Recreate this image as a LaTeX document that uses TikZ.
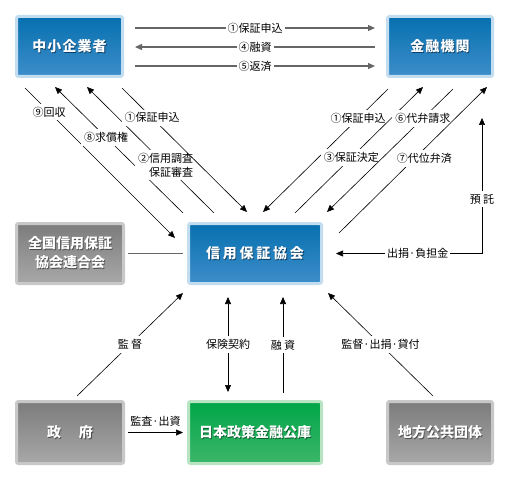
\documentclass[tikz,border=0pt]{standalone}
\usepackage{fontspec}
\usepackage{xcolor}
\usetikzlibrary{arrows.meta,positioning}
\newfontfamily\jp{Noto Sans CJK JP}
\definecolor{blueTop}{HTML}{0770B0}
\definecolor{blueBot}{HTML}{3D8EC9}
\definecolor{blueRim}{HTML}{C2DCF0}
\definecolor{blueShade}{HTML}{0B3F66}
\definecolor{grayTop}{HTML}{7C7C7C}
\definecolor{grayBot}{HTML}{A8A8A8}
\definecolor{grayRim}{HTML}{C8C8C8}
\definecolor{grayShade}{HTML}{4A4A4A}
\definecolor{greenTop}{HTML}{00A648}
\definecolor{greenBot}{HTML}{3CB66A}
\definecolor{greenRim}{HTML}{B8E4C4}
\definecolor{greenShade}{HTML}{0A5A2C}
\definecolor{lineGray}{HTML}{666666}
\newcommand{\shtext}[2]{\leavevmode\rlap{\kern0.8pt\raisebox{-0.9pt}{\textcolor{#1}{#2}}}#2}
\tikzset{>={Triangle[length=7pt,width=6pt]},
  box/.style={rectangle, rounded corners=2pt, line width=3pt, text=white, align=center,
    inner sep=0pt, font=\jp\fontsize{14}{19}\selectfont\bfseries},
  bluebox/.style={box, draw=blueRim, top color=blueTop, bottom color=blueBot},
  graybox/.style={box, draw=grayRim, top color=grayTop, bottom color=grayBot},
  greenbox/.style={box, draw=greenRim, top color=greenTop, bottom color=greenBot},
  lbl/.style={font=\jp\fontsize{11}{13.5}\selectfont, fill=white, inner sep=3pt, text=black},
  link/.style={draw=black, line width=0.6pt},
  flow/.style={draw=lineGray, line width=1.2pt}}

\begin{document}
\begin{tikzpicture}[x=1pt,y=-1pt]
\useasboundingbox (0,0) rectangle (511,481);

% Boxes
\node[bluebox, minimum width=106pt, minimum height=60pt] (sme) at (69.5,46.5)
  {\addfontfeature{LetterSpace=8}\shtext{blueShade}{中小企業者}};
\node[bluebox, minimum width=105pt, minimum height=60pt] (bank) at (440,46.5)
  {\addfontfeature{LetterSpace=8}\shtext{blueShade}{金融機関}};
\node[bluebox, minimum width=133pt, minimum height=60pt] (cgc) at (255,253.5)
  {\addfontfeature{LetterSpace=20}\shtext{blueShade}{信用保証協会}};
\node[graybox, minimum width=107pt, minimum height=60pt] (fed) at (70,253.5)
  {\shtext{grayShade}{全国信用保証}\\\shtext{grayShade}{協会連合会}};
\node[graybox, minimum width=107pt, minimum height=62pt] (gov) at (70,432.5)
  {\shtext{grayShade}{政\hspace{18pt}府}};
\node[greenbox, minimum width=133pt, minimum height=62pt] (jfc) at (255,432.5)
  {\shtext{greenShade}{日本政策金融公庫}};
\node[graybox, minimum width=105pt, minimum height=62pt] (local) at (440,432.5)
  {\shtext{grayShade}{地方公共団体}};

% SME <-> bank
\draw[flow,->] ([shift={(11,-18.5)}]sme.east) -- node[lbl,inner sep=2pt]{①保証申込} ([shift={(-11,-18.5)}]bank.west);
\draw[flow,<-] ([shift={(11,0.5)}]sme.east) -- node[lbl,inner sep=2pt]{④融資} ([shift={(-11,0.5)}]bank.west);
\draw[flow,->] ([shift={(11,19.5)}]sme.east) -- node[lbl,inner sep=2pt]{⑤返済} ([shift={(-11,19.5)}]bank.west);

% SME <-> association
\draw[link,->] ([shift={(10,10)}]sme.south west) -- node[lbl,pos=0.16]{⑨回収} ([shift={(-12,16)}]cgc.north west);
\draw[link,->] ([shift={(-4,-9)}]cgc.north west) -- node[lbl,pos=0.6]{⑧求償権} ([shift={(40,9)}]sme.south west);
\draw[link,->] ([shift={(27,-9)}]cgc.north west) -- node[lbl,pos=0.38,align=right]{②信用調査\\保証審査} ([shift={(72,9)}]sme.south west);
\draw[link,->] ([shift={(-2,10)}]sme.south east) -- node[lbl,pos=0.24]{①保証申込} ([shift={(60,-10)}]cgc.north west);

% bank <-> association
\draw[link,->] ([shift={(2,11)}]bank.south west) -- node[lbl,pos=0.24]{①保証申込} ([shift={(76,-10)}]cgc.north west);
\draw[link,->] ([shift={(40,-9)}]cgc.north) -- node[lbl,pos=0.44]{③保証決定} ([shift={(37,9)}]bank.south west);
\draw[link,->] ([shift={(67,11)}]bank.south west) -- node[lbl,pos=0.24]{⑥代弁請求} ([shift={(4,-10)}]cgc.north east);
\draw[link,->] ([shift={(16,11)}]cgc.north east) -- node[lbl,pos=0.51,xshift=10pt]{⑦代位弁済} ([shift={(-7,9)}]bank.south east);
\draw[link,<->] ([shift={(42,40)}]bank.south) |- node[lbl,pos=0.3]{預 託} node[lbl,pos=0.72,inner sep=2pt]{出捐·負担金} ([shift={(13,0)}]cgc.east);

% Federation
\draw[flow,line width=1pt] ([xshift=3pt]fed.east) -- ([xshift=-4pt]cgc.west);

% Bottom row
\draw[link,->] ([shift={(7,-4)}]gov.north) -- node[lbl]{監 督} ([shift={(-4,8)}]cgc.south west);
\draw[link,<->] ([shift={(-27,12)}]cgc.south) -- node[lbl]{保険契約} ([shift={(-27,-8)}]jfc.north);
\draw[link,->] ([shift={(28,-7)}]jfc.north) -- node[lbl]{融 資} ([shift={(28,12)}]cgc.south);
\draw[link,->] ([shift={(-7,-4)}]local.north) -- node[lbl]{監督·出捐·貸付} ([shift={(5,8)}]cgc.south east);
\draw[link,->] ([shift={(3,0)}]gov.east) -- node[lbl,fill=none,above=3pt]{監査·出資} ([shift={(-4,0)}]jfc.west);

\end{tikzpicture}
\end{document}
